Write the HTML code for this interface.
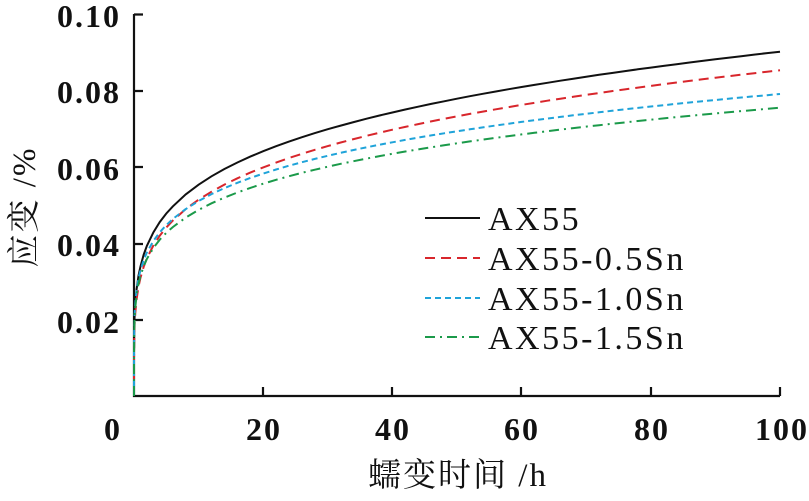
<!DOCTYPE html>
<html><head><meta charset="utf-8"><style>
html,body{margin:0;padding:0;background:#fff;}
svg text{font-family:"Liberation Serif","Noto Serif CJK SC",serif;fill:#111;}
</style></head><body>
<svg id="s" width="809" height="496" xmlns="http://www.w3.org/2000/svg">
<g stroke="#111" stroke-width="2.2" fill="none">
<path d="M134,14 V396 H780"/>
<path d="M134,91 h9 M134,167 h9 M134,244 h9 M134,320 h9 M134,14.5 h9"/>
<path d="M263,396 v-9 M392,396 v-9 M521,396 v-9 M651,396 v-9 M780,396 v-9"/>
</g>
<g font-size="32" text-anchor="end" font-weight="bold" letter-spacing="2">
<text x="121" y="27">0.10</text>
<text x="121" y="103">0.08</text>
<text x="121" y="180">0.06</text>
<text x="121" y="256">0.04</text>
<text x="121" y="333">0.02</text>
</g>
<g font-size="32" text-anchor="middle" font-weight="bold" letter-spacing="2">
<text x="113" y="440">0</text>
<text x="264" y="440">20</text>
<text x="393" y="440">40</text>
<text x="522" y="440">60</text>
<text x="652" y="440">80</text>
<text x="782" y="440">100</text>
</g>
<text x="458" y="486" font-size="33" text-anchor="middle" letter-spacing="2">蠕变时间 /h</text>
<text transform="translate(35,207) rotate(-90)" font-size="33" text-anchor="middle" letter-spacing="2">应变 /%</text>
<g id="curves" fill="none" stroke-width="2"></g>
<g stroke-width="2">
<line x1="425" y1="218" x2="480" y2="218" stroke="#111"/>
<line x1="425" y1="258" x2="480" y2="258" stroke="#d8262c" stroke-dasharray="10,6"/>
<line x1="425" y1="298" x2="480" y2="298" stroke="#1fa3d9" stroke-dasharray="6,4"/>
<line x1="425" y1="337" x2="480" y2="337" stroke="#1b9a4a" stroke-dasharray="10,5,2,5"/>
</g>
<g font-size="34" letter-spacing="2.5">
<text x="488" y="230">AX55</text>
<text x="488" y="270">AX55-0.5Sn</text>
<text x="488" y="310">AX55-1.0Sn</text>
<text x="488" y="349">AX55-1.5Sn</text>
</g>
</svg>
<script>
var series=[[0.034,0.212,"#111",""],[0.031,0.22,"#d8262c","10,6"],[0.033,0.19,"#1fa3d9","6,4"],[0.0315,0.19,"#1b9a4a","10,5,2,5"]];
var g=document.getElementById("curves");
series.forEach(function(s){
 var d="M134,396";
 var ts=[0.001,0.005,0.01,0.03,0.06,0.1,0.2,0.4,0.7,1,1.5,2,3,4,5,6,8,10];
 for(var t=12;t<=100;t+=2)ts.push(t);
 ts.forEach(function(t){var y=s[0]*Math.pow(t,s[1]);d+=" L"+(134+t*6.46).toFixed(1)+","+(396-y*3815).toFixed(1);});
 var p=document.createElementNS("http://www.w3.org/2000/svg","path");
 p.setAttribute("d",d);p.setAttribute("stroke",s[2]);if(s[3])p.setAttribute("stroke-dasharray",s[3]);
 g.appendChild(p);
});
</script>
</body></html>
